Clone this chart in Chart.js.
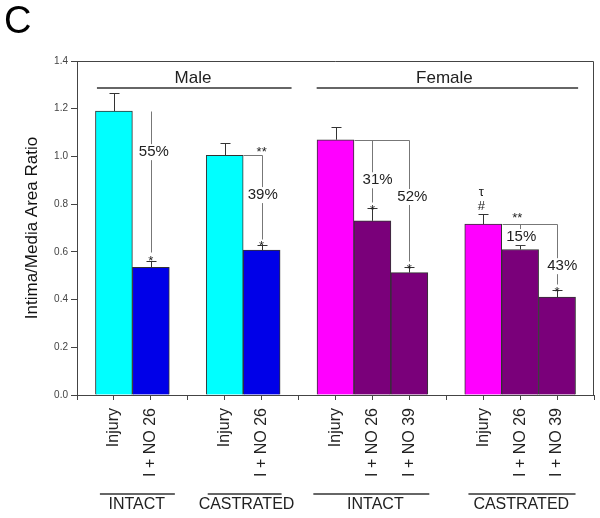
<!DOCTYPE html>
<html>
<head>
<meta charset="utf-8">
<script src="https://cdn.jsdelivr.net/npm/chart.js@4.4.1/dist/chart.umd.min.js"></script>
<style>
  html, body { margin: 0; padding: 0; background: #fff; }
  #wrap { position: relative; width: 600px; height: 518px; }
</style>
</head>
<body>
<div id="wrap"><canvas id="ratioChart" width="600" height="518"></canvas></div>
<script>
// slots along the x axis, empty strings are the gaps between the groups
const categories = ['', 'Injury', 'I + NO 26', '', 'Injury', 'I + NO 26', '', 'Injury', 'I + NO 26', 'I + NO 39', '', 'Injury', 'I + NO 26', 'I + NO 39', ''];
const ratioMeans = [null, 1.19, 0.535, null, 1.005, 0.607, null, 1.07, 0.73, 0.513, null, 0.716, 0.61, 0.41, null];
const ratioErrors = [null, 0.075, 0.028, null, 0.05, 0.022, null, 0.055, 0.055, 0.022, null, 0.042, 0.02, 0.03, null];
const slotSex = [null, 'M', 'M', null, 'M', 'M', null, 'F', 'F', 'F', null, 'F', 'F', 'F', null];
const slotTreated = [null, false, true, null, false, true, null, false, true, true, null, false, true, true, null];
const yTicks = [0, 0.2, 0.4, 0.6, 0.8, 1.0, 1.2, 1.4];
const sexLabels = ['Male', 'Female'];
const statusLabels = ['INTACT', 'CASTRATED', 'INTACT', 'CASTRATED'];
const reductionLabels = ['55%', '39%', '31%', '52%', '15%', '43%'];

const FONT = '"Liberation Sans", Arial, sans-serif';

function barColor(i) {
  if (slotSex[i] === 'M') return slotTreated[i] ? '#0000E8' : '#00FFFF';
  return slotTreated[i] ? '#7A007A' : '#FF00FF';
}

const annotationPlugin = {
  id: 'figureAnnotations',
  afterDatasetsDraw(chart) {
    const ctx = chart.ctx;
    const xs = chart.scales.x, ys = chart.scales.y;
    const X = v => xs.getPixelForValue(v);
    const Y = v => ys.getPixelForValue(v);
    const bottom = ys.bottom;

    ctx.save();
    // frame around the plot (top and right sides)
    ctx.strokeStyle = '#444';
    ctx.lineWidth = 1;
    const fr = Math.round(xs.right) - 0.5, ft = Math.round(ys.top) + 0.5;
    ctx.beginPath();
    ctx.moveTo(xs.left, ft);
    ctx.lineTo(fr, ft);
    ctx.lineTo(fr, bottom);
    ctx.stroke();

    // error bars (upper half only)
    ctx.strokeStyle = '#333';
    ratioMeans.forEach((m, i) => {
      if (m === null) return;
      const x = Math.round(X(i)) + 0.5;
      const y0 = Y(m), y1 = Math.round(Y(m + ratioErrors[i])) + 0.5;
      ctx.beginPath();
      ctx.moveTo(x, y0);
      ctx.lineTo(x, y1);
      ctx.moveTo(x - 5, y1);
      ctx.lineTo(x + 5, y1);
      ctx.stroke();
    });

    // comparison brackets
    const brackets = [
      [[2, 1.19], [2, 0.60]],
      [[4.5, 1.005], [5, 1.005], [5, 0.655]],
      [[7.5, 1.07], [9, 1.07]],
      [[8, 1.07], [8, 0.81]],
      [[9, 1.07], [9, 0.56]],
      [[11.5, 0.716], [13, 0.716]],
      [[12, 0.716], [12, 0.635]],
      [[13, 0.716], [13, 0.465]]
    ];
    ctx.strokeStyle = '#777';
    brackets.forEach(path => {
      ctx.beginPath();
      path.forEach(([vx, vy], k) => {
        const x = Math.round(X(vx)) + 0.5, y = Math.round(Y(vy)) + 0.5;
        if (k === 0) ctx.moveTo(x, y); else ctx.lineTo(x, y);
      });
      ctx.stroke();
    });

    ctx.textAlign = 'center';
    ctx.textBaseline = 'middle';

    // reduction percentages
    const pctPos = [[2.08, 1.018], [5.03, 0.838], [8.14, 0.90], [9.08, 0.83], [12.03, 0.662], [13.14, 0.54]];
    ctx.font = '15px ' + FONT;
    reductionLabels.forEach((t, k) => {
      const x = X(pctPos[k][0]), y = Y(pctPos[k][1]);
      const w = ctx.measureText(t).width;
      ctx.fillStyle = '#fff';
      ctx.fillRect(x - w / 2 - 1, y - 8, w + 2, 16);
      ctx.fillStyle = '#222';
      ctx.fillText(t, x, y);
    });

    // significance marks
    ctx.font = '13px ' + FONT;
    ctx.fillStyle = '#222';
    const marks = [
      ['*', 2, 0.575], ['*', 5, 0.638], ['*', 8, 0.79], ['*', 9, 0.543], ['*', 13, 0.447],
      ['**', 5, 1.035], ['**', 11.92, 0.755], ['#', 10.95, 0.79], ['\u03c4', 10.95, 0.85]
    ];
    marks.forEach(([t, vx, vy]) => {
      ctx.fillText(t, X(vx), Y(vy) + (t.startsWith('*') ? 4 : 0));
    });

    // sex headers
    ctx.font = '17px ' + FONT;
    ctx.strokeStyle = '#333';
    ctx.lineWidth = 1.5;
    const sexSpans = [[0.54, 5.81, 3.14], [6.49, 13.57, 9.95]];
    sexLabels.forEach((t, k) => {
      const [a, b, c] = sexSpans[k];
      const ly = Y(1.287);
      ctx.beginPath();
      ctx.moveTo(X(a), ly);
      ctx.lineTo(X(b), ly);
      ctx.stroke();
      ctx.fillText(t, X(c), Y(1.326));
    });

    // intact / castrated under the axis
    ctx.font = '16px ' + FONT;
    const statusSpans = [[0.62, 2.65, 1.62], [3.54, 5.54, 4.59], [6.4, 9.54, 8.08], [10.6, 13.5, 12.03]];
    statusLabels.forEach((t, k) => {
      const [a, b, c] = statusSpans[k];
      const ly = bottom + 99;
      ctx.beginPath();
      ctx.moveTo(X(a), ly);
      ctx.lineTo(X(b), ly);
      ctx.stroke();
      ctx.fillText(t, X(c), bottom + 110);
    });

    // panel letter
    ctx.textAlign = 'left';
    ctx.textBaseline = 'alphabetic';
    ctx.font = '38px ' + FONT;
    ctx.fillStyle = '#000';
    ctx.fillText('C', 4, 33);
    ctx.restore();
  }
};

new Chart(document.getElementById('ratioChart'), {
  type: 'bar',
  data: {
    labels: categories,
    datasets: [{
      data: ratioMeans,
      backgroundColor: ratioMeans.map((_, i) => barColor(i)),
      borderColor: '#333',
      borderWidth: 1,
      categoryPercentage: 1,
      barPercentage: 1
    }]
  },
  options: {
    responsive: false,
    animation: false,
    layout: { padding: { top: 61, right: 6, left: 0, bottom: 0 } },
    plugins: { legend: { display: false }, tooltip: { enabled: false } },
    scales: {
      x: {
        offset: false,
        afterFit: s => { s.height = 123; s.paddingLeft = 0; s.paddingRight = 0; },
        grid: { offset: false, drawOnChartArea: false, tickLength: 5, color: '#444' },
        border: { color: '#444' },
        ticks: {
          autoSkip: false, minRotation: 90, maxRotation: 90, padding: 8,
          color: '#222', font: { family: FONT, size: 16 }
        }
      },
      y: {
        min: 0, max: 1.4,
        afterFit: s => { s.width = 77; s.paddingTop = 0; s.paddingBottom = 0; },
        afterBuildTicks: s => { s.ticks = yTicks.map(v => ({ value: v })); },
        grid: { drawOnChartArea: false, tickLength: 6, color: '#444' },
        border: { color: '#444' },
        ticks: {
          padding: 3, color: '#444', font: { family: FONT, size: 10 },
          callback: v => v.toFixed(1)
        },
        title: {
          display: true, text: 'Intima/Media Area Ratio',
          color: '#111', font: { family: FONT, size: 17 }, padding: { top: 22, bottom: 0 }
        }
      }
    }
  },
  plugins: [annotationPlugin]
});
</script>
</body>
</html>
